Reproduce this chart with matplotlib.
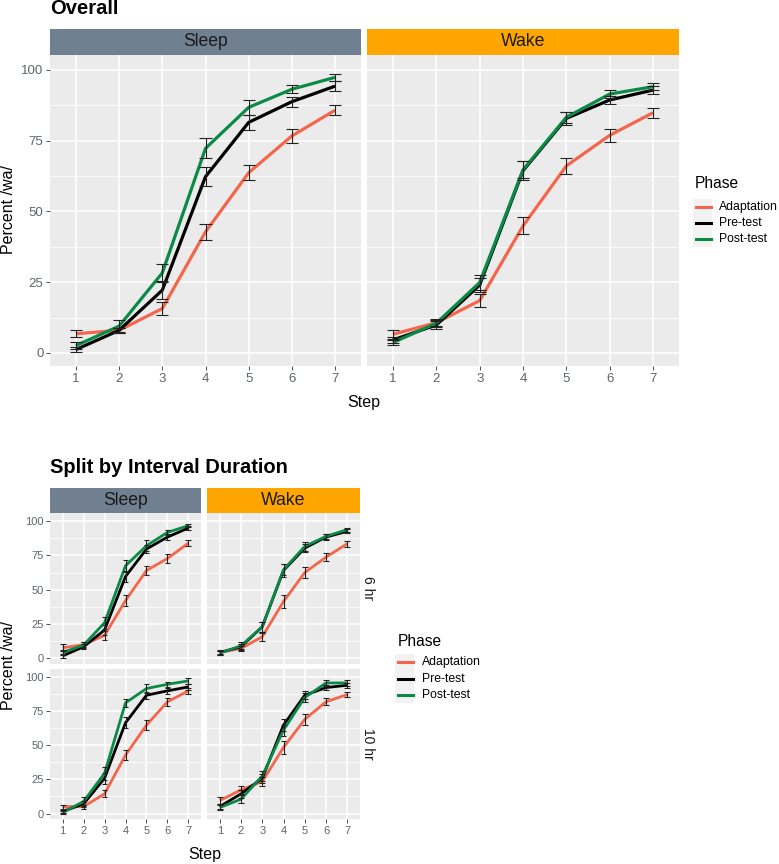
import matplotlib
matplotlib.use("Agg")
import matplotlib.pyplot as plt
from matplotlib.patches import Rectangle
from matplotlib.lines import Line2D

plt.rcParams["font.family"] = ["Liberation Sans", "DejaVu Sans"]

steps = [1, 2, 3, 4, 5, 6, 7]
phases = ["Adaptation", "Pre-test", "Post-test"]
phase_colors = ["#F4664B", "#000000", "#0A8A47"]

# rows: Adaptation, Pre-test, Post-test
overall_sleep_mean = [
    [6.8, 8.0, 15.7, 42.8, 63.7, 76.7, 85.8],
    [1.2, 8.0, 22.2, 62.3, 81.5, 88.8, 94.3],
    [2.6, 9.5, 28.3, 72.3, 86.8, 93.2, 97.4],
]
overall_sleep_se = [
    [1.2, 1.0, 2.3, 2.7, 2.6, 2.4, 1.8],
    [0.8, 1.0, 3.0, 3.3, 2.6, 1.8, 1.8],
    [1.2, 2.2, 3.0, 3.5, 2.6, 1.5, 1.2],
]
overall_wake_mean = [
    [6.6, 10.7, 18.5, 44.9, 66.1, 76.9, 84.9],
    [4.6, 9.9, 24.0, 64.4, 82.9, 89.4, 92.9],
    [3.7, 10.5, 24.9, 64.7, 83.3, 91.5, 94.1],
]
overall_wake_se = [
    [1.5, 1.2, 2.2, 3.0, 2.7, 2.2, 1.7],
    [1.0, 1.5, 2.5, 3.3, 2.2, 1.5, 1.3],
    [1.0, 1.2, 2.5, 3.0, 2.0, 1.5, 1.3],
]

sleep_6hr_mean = [
    [7.8, 10.0, 16.8, 42.1, 64.0, 72.7, 83.9],
    [1.9, 8.5, 20.7, 59.6, 79.6, 88.3, 94.9],
    [4.4, 9.7, 26.0, 67.4, 82.0, 91.7, 96.6],
]
sleep_6hr_se = [
    [2.5, 2.0, 3.0, 3.8, 3.5, 3.2, 2.2],
    [1.2, 1.8, 3.5, 4.2, 3.2, 2.2, 1.5],
    [1.5, 2.0, 4.5, 4.5, 4.0, 2.0, 1.2],
]
wake_6hr_mean = [
    [4.4, 7.3, 15.8, 41.4, 62.5, 73.7, 83.5],
    [4.4, 8.5, 23.1, 64.0, 80.3, 88.3, 92.5],
    [3.9, 9.2, 23.1, 64.5, 81.5, 88.8, 93.7],
]
wake_6hr_se = [
    [1.5, 1.8, 3.0, 4.5, 4.0, 3.0, 2.2],
    [1.2, 2.2, 3.5, 4.5, 3.0, 2.0, 1.5],
    [1.2, 2.5, 3.5, 4.0, 3.0, 2.0, 1.5],
]
sleep_10hr_mean = [
    [5.1, 5.1, 14.4, 42.8, 64.7, 81.8, 89.8],
    [1.5, 7.0, 25.8, 66.4, 86.6, 89.8, 92.7],
    [0.7, 8.8, 29.4, 81.0, 91.5, 94.6, 97.1],
]
sleep_10hr_se = [
    [1.5, 1.5, 2.5, 3.5, 3.5, 3.0, 2.2],
    [1.0, 2.0, 4.0, 4.0, 2.5, 2.0, 2.0],
    [1.0, 3.0, 4.5, 3.0, 3.0, 1.8, 2.0],
]
wake_10hr_mean = [
    [9.5, 17.3, 23.4, 48.4, 68.9, 81.8, 87.1],
    [5.1, 14.4, 25.8, 64.7, 86.6, 92.2, 93.9],
    [4.4, 10.5, 27.5, 61.1, 84.9, 95.6, 95.6],
]
wake_10hr_se = [
    [2.5, 3.0, 3.0, 4.5, 4.0, 2.5, 2.0],
    [2.0, 3.0, 3.5, 4.5, 3.0, 2.0, 2.0],
    [2.0, 3.0, 4.0, 4.0, 3.5, 2.0, 2.0],
]

yticks = [0, 25, 50, 75, 100]
minor_yticks = [12.5, 37.5, 62.5, 87.5]

W, H = 779, 864
fig = plt.figure(figsize=(W / 100, H / 100), dpi=100)

PANEL_BG = "#EBEBEB"
TICK_COLOR = "#5E646C"
STRIP_COLORS = {"Sleep": "#708090", "Wake": "#FFA500"}


def px_axes(x0, y0, x1, y1, **kw):
    return fig.add_axes([x0 / W, 1 - y1 / H, (x1 - x0) / W, (y1 - y0) / H], **kw)


def fx(x):
    return x / W


def fy(y):
    return 1 - y / H


def add_strip(x0, y0, x1, y1, label):
    fig.add_artist(Rectangle((fx(x0), fy(y1)), (x1 - x0) / W, (y1 - y0) / H,
                             transform=fig.transFigure, facecolor=STRIP_COLORS[label],
                             edgecolor="none"))
    fig.text(fx((x0 + x1) / 2), fy((y0 + y1) / 2), label, ha="center", va="center",
             fontsize=12.7, color="#1A1A1A")


def draw_panel(ax, means, ses, ylim, lw, cap, tick_fs, show_y, show_x):
    ax.set_facecolor(PANEL_BG)
    for s in ax.spines.values():
        s.set_visible(False)
    ax.set_xlim(0.4, 7.6)
    ax.set_ylim(*ylim)
    ax.set_xticks(steps)
    ax.set_yticks(yticks)
    ax.set_yticks(minor_yticks, minor=True)
    ax.grid(True, which="major", color="white", linewidth=1.1)
    ax.grid(True, which="minor", axis="y", color="white", linewidth=0.55)
    ax.set_axisbelow(True)
    ax.tick_params(which="minor", length=0)
    ax.tick_params(which="major", length=2.7, width=0.6, color="#333333",
                   labelsize=tick_fs, labelcolor=TICK_COLOR, pad=2)
    if not show_y:
        ax.tick_params(axis="y", length=0, labelleft=False)
    if not show_x:
        ax.tick_params(axis="x", length=0, labelbottom=False)
    for m, c in zip(means, phase_colors):
        ax.plot(steps, m, color=c, linewidth=lw, solid_capstyle="butt", zorder=2)
    for m, se in zip(means, ses):
        lo = [a - b for a, b in zip(m, se)]
        hi = [a + b for a, b in zip(m, se)]
        ax.vlines(steps, lo, hi, color="#222222", linewidth=0.8, zorder=3)
        ax.hlines(lo, [x - cap for x in steps], [x + cap for x in steps],
                  color="#222222", linewidth=0.8, zorder=3)
        ax.hlines(hi, [x - cap for x in steps], [x + cap for x in steps],
                  color="#222222", linewidth=0.8, zorder=3)


def add_legend(x_title, y_title, x_key, x_label, key_ys):
    fig.text(fx(x_title), fy(y_title), "Phase", ha="left", va="center",
             fontsize=11.2, color="black")
    fig.add_artist(Rectangle((fx(x_key - 3), fy(key_ys[-1] + 8)), 19 / W,
                             (key_ys[-1] - key_ys[0] + 16) / H,
                             transform=fig.transFigure, facecolor="#F2F2F2",
                             edgecolor="none"))
    for yk, name, c in zip(key_ys, phases, phase_colors):
        fig.add_artist(Line2D([fx(x_key), fx(x_key + 15)], [fy(yk), fy(yk)],
                              transform=fig.transFigure, color=c, linewidth=2.2))
        fig.text(fx(x_label), fy(yk), name, ha="left", va="center",
                 fontsize=8.8, color="black")


# ---- Overall ----
fig.text(fx(50), fy(9), "Overall", ha="left", va="center", fontsize=14.5,
         fontweight="bold")
top_ylim = (-4.6, 105.3)
ax1 = px_axes(50, 55, 361, 366)
draw_panel(ax1, overall_sleep_mean, overall_sleep_se, top_ylim, 2.3, 0.14, 9.5, True, True)
ax2 = px_axes(367, 55, 679, 366)
draw_panel(ax2, overall_wake_mean, overall_wake_se, top_ylim, 2.3, 0.14, 9.5, False, True)
add_strip(50, 29, 361, 55, "Sleep")
add_strip(367, 29, 679, 55, "Wake")
fig.text(fx(364), fy(402), "Step", ha="center", va="center", fontsize=11.5)
fig.text(fx(9), fy(210), "Percent /wa/", ha="center", va="center", fontsize=11.5,
         rotation=90)
add_legend(695, 184, 696, 719, [207, 223, 239])

# ---- Split by Interval Duration ----
fig.text(fx(50), fy(468), "Split by Interval Duration", ha="left", va="center",
         fontsize=14.5, fontweight="bold")
bot_ylim = (-4.0, 105.8)
axes_split = [
    (50, 513, 201, 664, sleep_6hr_mean, sleep_6hr_se, True, False),
    (207, 513, 360, 664, wake_6hr_mean, wake_6hr_se, False, False),
    (50, 669, 201, 819, sleep_10hr_mean, sleep_10hr_se, True, True),
    (207, 669, 360, 819, wake_10hr_mean, wake_10hr_se, False, True),
]
for x0, y0, x1, y1, m, se, sy, sx in axes_split:
    ax = px_axes(x0, y0, x1, y1)
    draw_panel(ax, m, se, bot_ylim, 2.0, 0.14, 8.0, sy, sx)
add_strip(50, 488, 201, 513, "Sleep")
add_strip(207, 488, 360, 513, "Wake")
fig.text(fx(368), fy(588), "6 hr", ha="center", va="center", fontsize=10,
         rotation=-90, color="#1A1A1A")
fig.text(fx(368), fy(744), "10 hr", ha="center", va="center", fontsize=10,
         rotation=-90, color="#1A1A1A")
fig.text(fx(205), fy(854), "Step", ha="center", va="center", fontsize=11.5)
fig.text(fx(9), fy(666), "Percent /wa/", ha="center", va="center", fontsize=11.5,
         rotation=90)
add_legend(398, 641, 398, 422, [662, 679, 695])

fig.savefig("out.png", dpi=100)
plt.close(fig)
